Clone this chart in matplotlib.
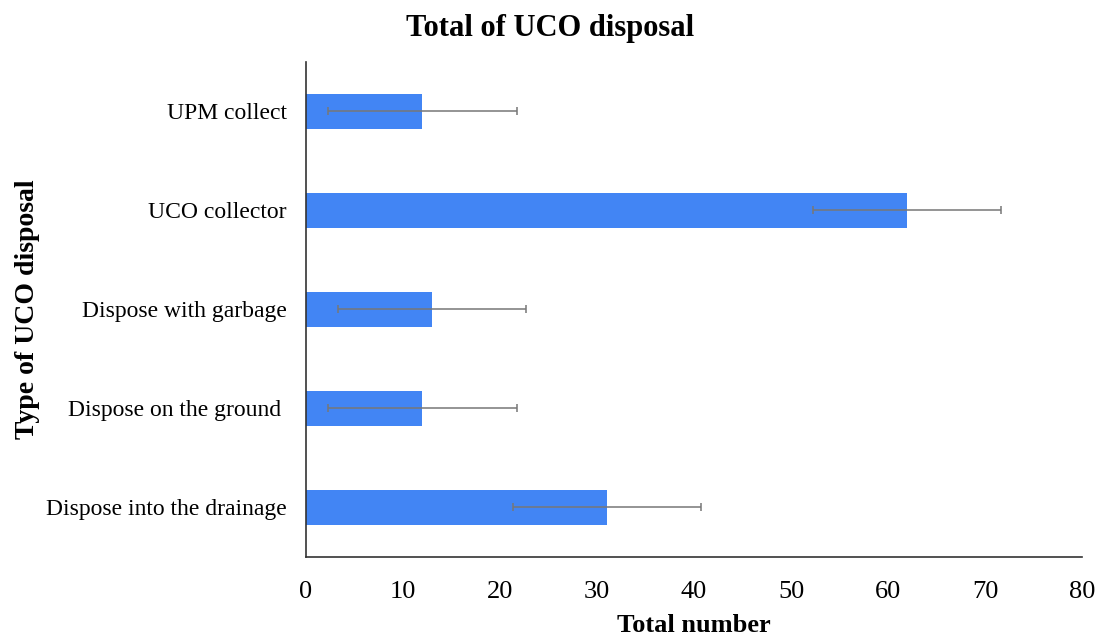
import matplotlib.pyplot as plt

categories = ['Dispose into the drainage', 'Dispose on the ground ', 'Dispose with garbage',
              'UCO collector', 'UPM collect']
totals = [31, 12, 13, 62, 12]
errors = [9.7, 9.7, 9.7, 9.7, 9.7]
x_ticks = [0, 10, 20, 30, 40, 50, 60, 70, 80]

plt.rcParams['font.family'] = ['Liberation Serif', 'DejaVu Serif']

fig = plt.figure(figsize=(11.06, 6.37), dpi=100)
ax = fig.add_axes([0.2767, 0.1256, 0.7016, 0.7771])

ax.barh(range(len(categories)), totals, height=0.36, color='#4285f4',
        xerr=errors, error_kw=dict(ecolor='#777777', elinewidth=1.1, capsize=3, capthick=1.1))

ax.set_xlim(0, 80)
ax.set_ylim(-0.5, len(categories) - 0.5)
ax.set_xticks(x_ticks)
ax.set_yticks(range(len(categories)))
ax.set_yticklabels(categories)
ax.tick_params(axis='y', length=0, pad=14, labelsize=17)
ax.tick_params(axis='x', length=0, pad=17, labelsize=19)

for side in ['top', 'right']:
    ax.spines[side].set_visible(False)
for side in ['left', 'bottom']:
    ax.spines[side].set_color('#333333')
    ax.spines[side].set_linewidth(1.2)

ax.set_xlabel('Total number', fontsize=19, fontweight='bold', labelpad=8)
ax.set_ylabel('Type of UCO disposal', fontsize=20, fontweight='bold')
ax.yaxis.set_label_coords(-0.343, 0.5)
fig.text(0.497, 0.955, 'Total of UCO disposal', ha='center', va='center',
         fontsize=22, fontweight='bold')

fig.savefig('out.png', dpi=100)
